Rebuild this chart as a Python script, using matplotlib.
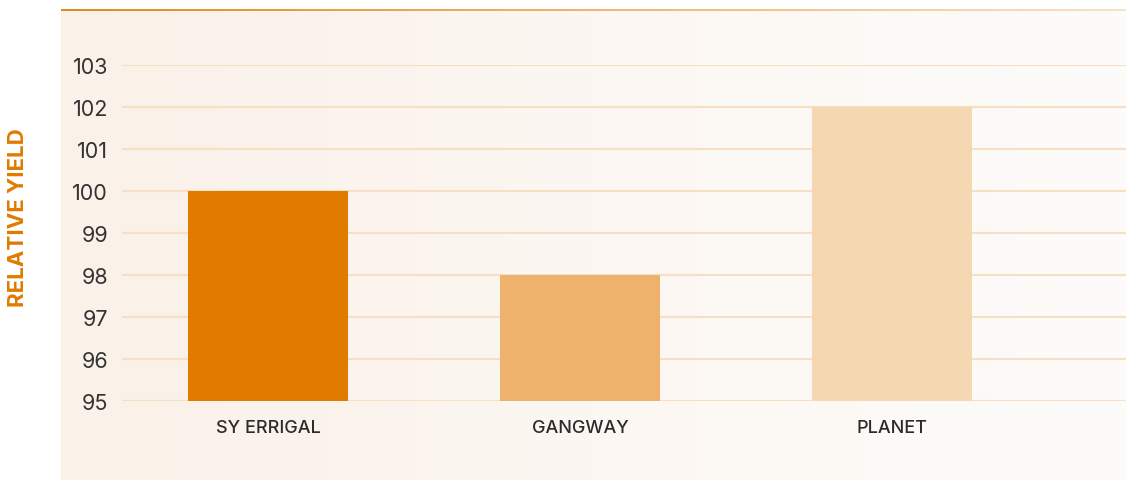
import numpy as np
import matplotlib.pyplot as plt
from matplotlib.colors import LinearSegmentedColormap

# data
varieties = ["SY ERRIGAL", "GANGWAY", "PLANET"]
relative_yield = [100, 98, 102]
bar_colors = ["#e07b00", "#efb26c", "#f5d8b2"]
y_ticks = [95, 96, 97, 98, 99, 100, 101, 102, 103]

W, H = 1126, 481
fig = plt.figure(figsize=(W / 100, H / 100), dpi=100)
fig.patch.set_facecolor("white")

# panel background with soft gradient
bg = fig.add_axes([61 / W, 0, 1 - 61 / W, (H - 10) / H], zorder=0)
grad = np.linspace(0, 1, 256).reshape(1, -1)
bg_cmap = LinearSegmentedColormap.from_list("bg", ["#faf1e8", "#fcf7f2", "#fdfcfa"])
bg.imshow(grad, aspect="auto", cmap=bg_cmap, extent=[0, 1, 0, 1])
bg.set_axis_off()

# top accent line
top = fig.add_axes([61 / W, (H - 12) / H, 1 - 61 / W, 2.5 / H], zorder=1)
line_cmap = LinearSegmentedColormap.from_list("top", ["#e08a20", "#f0b570", "#f7e2c8"])
top.imshow(grad, aspect="auto", cmap=line_cmap, extent=[0, 1, 0, 1])
top.set_axis_off()

# main axes: y=95 at px 402, y=103 at px 66
ax = fig.add_axes([122 / W, (H - 402) / H, 1 - 122 / W, (402 - 66) / H], zorder=2)
ax.patch.set_alpha(0)

x = np.arange(len(varieties))
ax.bar(x, [v - 95 for v in relative_yield], bottom=95, width=0.513,
       color=bar_colors, zorder=3)

ax.set_ylim(95, 103)
ax.set_xlim(-0.468, 2.75)
ax.set_yticks(y_ticks)
ax.grid(axis="y", color="#f6dfc2", linewidth=1.5, zorder=1)
ax.set_axisbelow(True)
for s in ax.spines.values():
    s.set_visible(False)

ax.tick_params(axis="y", length=0, pad=10, labelsize=15.5, labelcolor="#333333")
for lab in ax.get_yticklabels():
    lab.set_fontfamily("Inter")

ax.set_xticks(x)
ax.set_xticklabels(varieties, fontfamily="Inter", fontsize=13, color="#2b2b2b",
                   fontweight="medium")
ax.tick_params(axis="x", length=0, pad=13)

fig.text(18 / W, (H - 218) / H, "RELATIVE YIELD", rotation=90, color="#e07b00",
         fontsize=16, fontweight="bold", fontfamily="Inter",
         ha="center", va="center")

fig.savefig("out.png", dpi=100)
